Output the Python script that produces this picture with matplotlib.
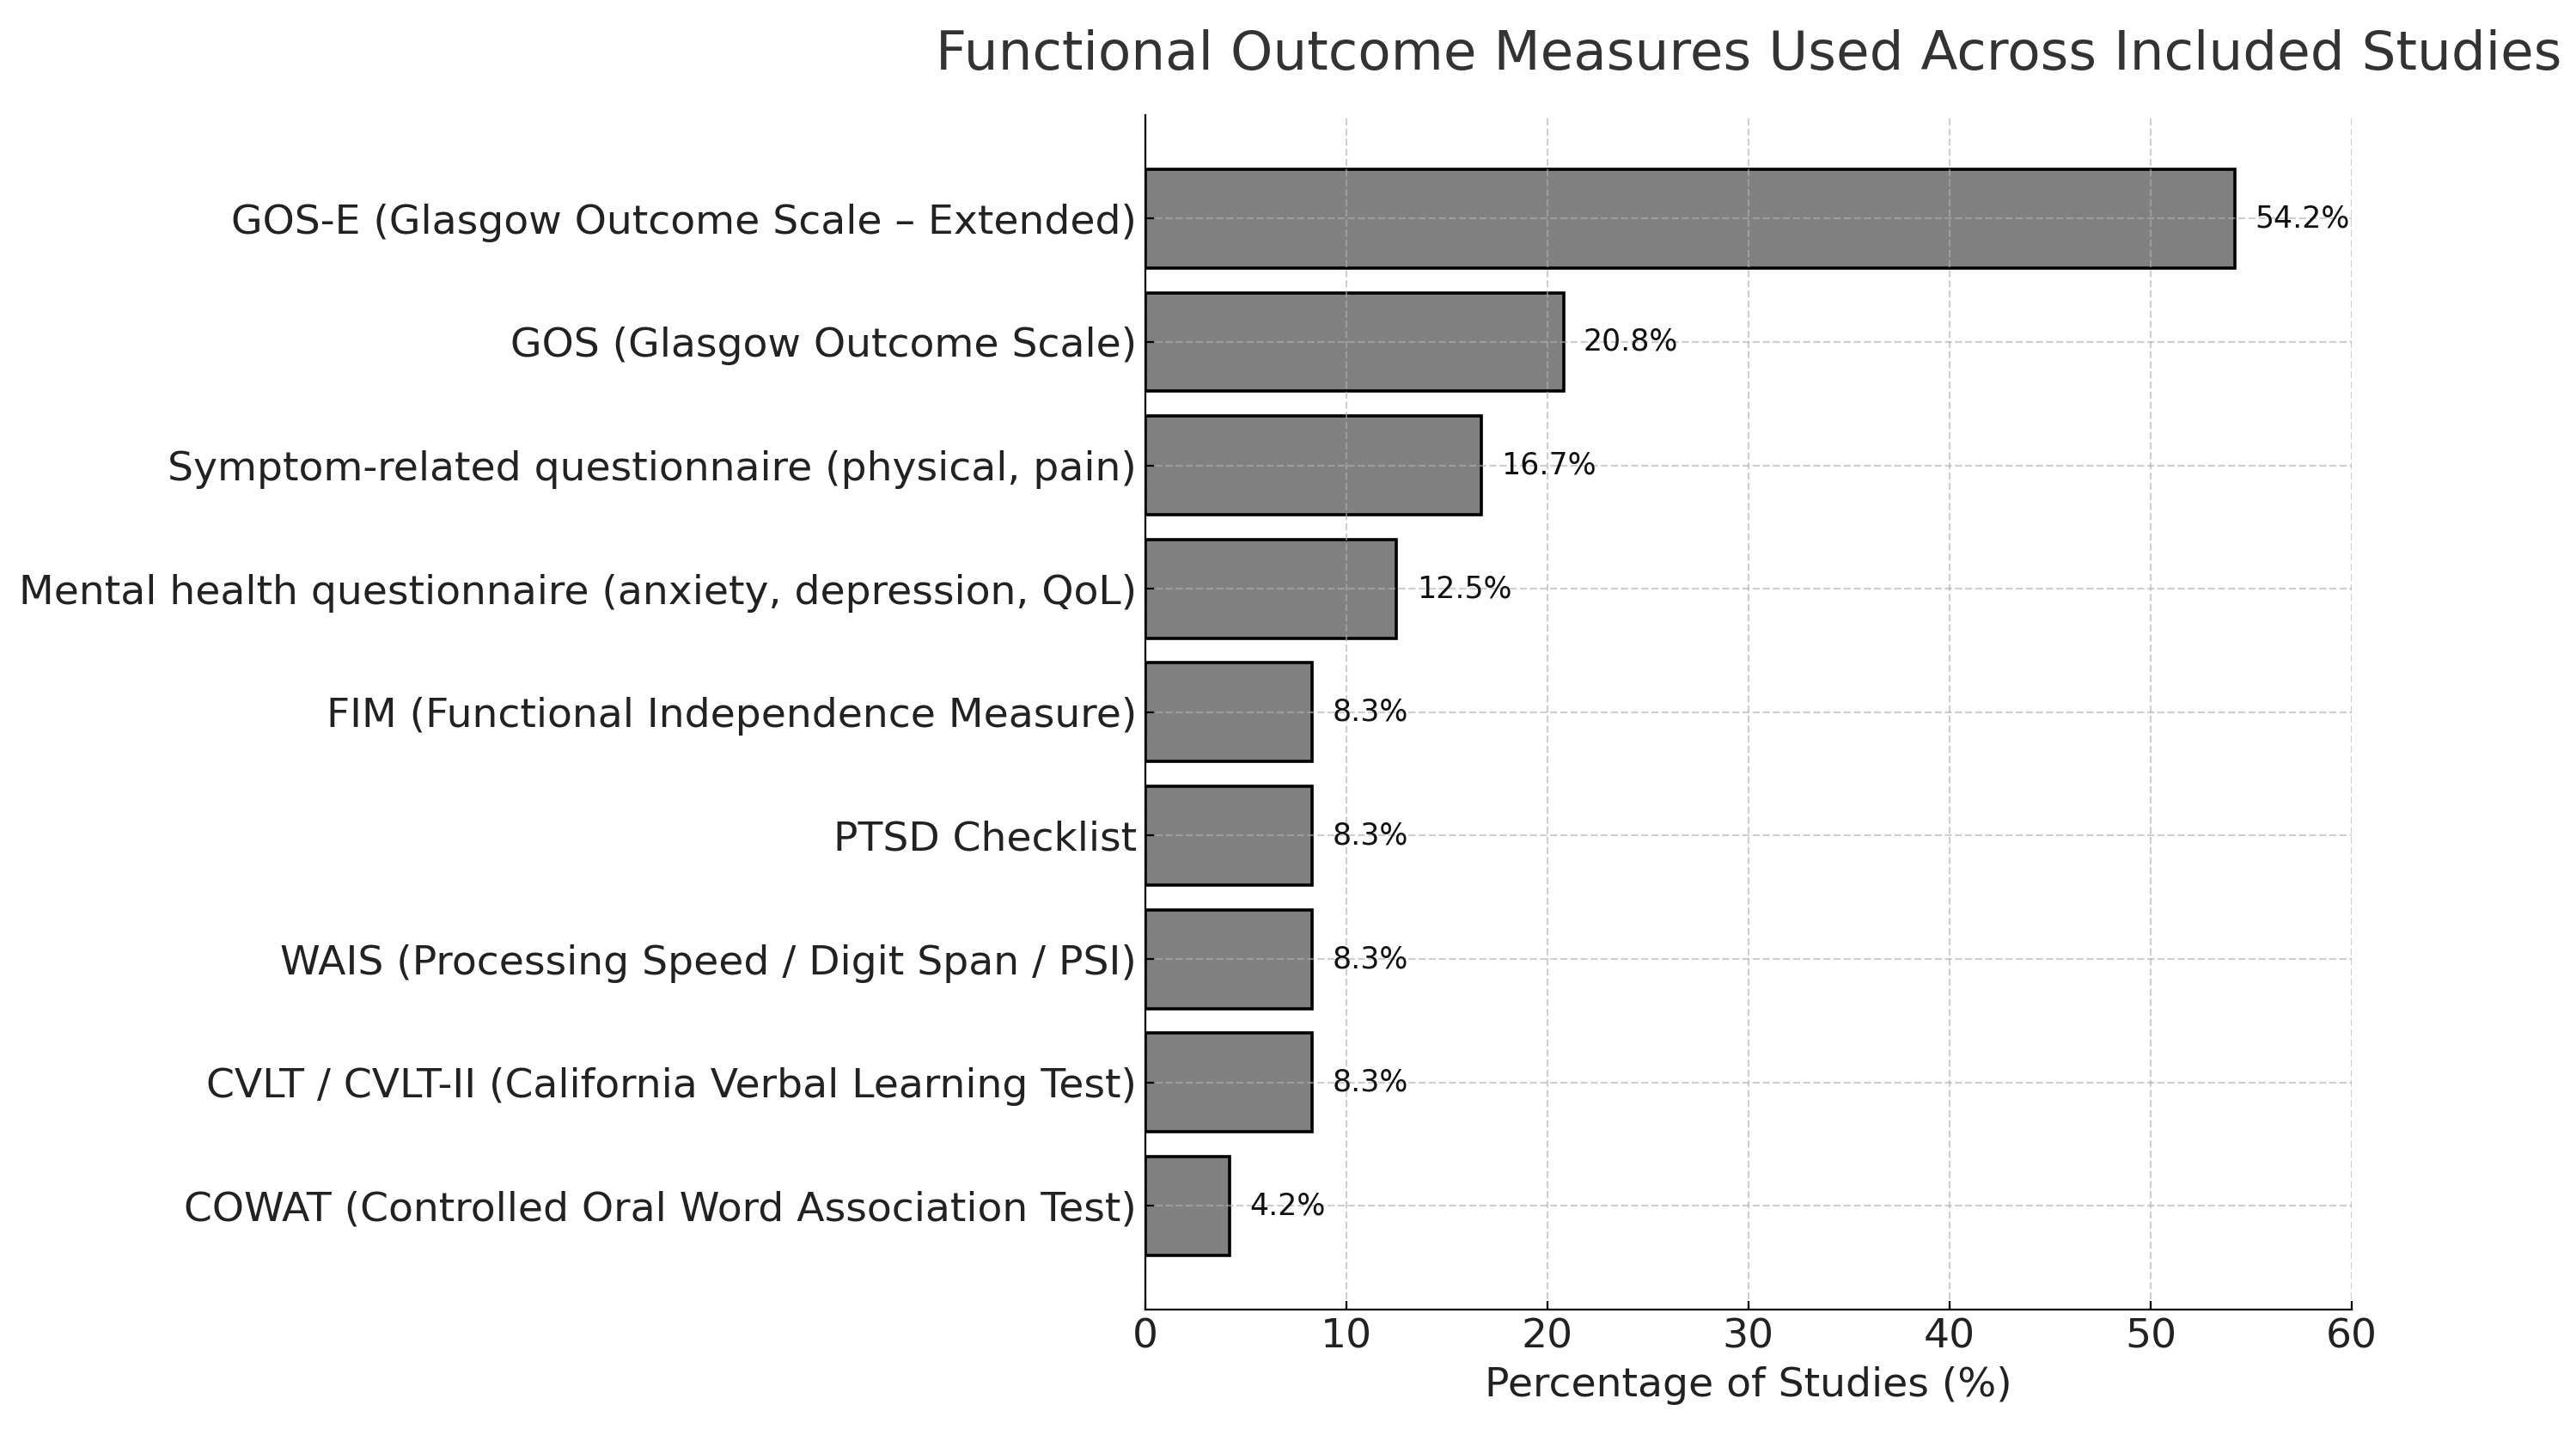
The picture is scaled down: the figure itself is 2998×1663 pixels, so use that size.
import matplotlib
matplotlib.use("Agg")
import matplotlib.pyplot as plt

# measures, listed top to bottom as in the chart
measures = [
    "GOS-E (Glasgow Outcome Scale – Extended)",
    "GOS (Glasgow Outcome Scale)",
    "Symptom-related questionnaire (physical, pain)",
    "Mental health questionnaire (anxiety, depression, QoL)",
    "FIM (Functional Independence Measure)",
    "PTSD Checklist",
    "WAIS (Processing Speed / Digit Span / PSI)",
    "CVLT / CVLT-II (California Verbal Learning Test)",
    "COWAT (Controlled Oral Word Association Test)",
]
percentages = [54.2, 20.8, 16.7, 12.5, 8.3, 8.3, 8.3, 8.3, 4.2]
x_ticks = [0, 10, 20, 30, 40, 50, 60]

fig = plt.figure(figsize=(14.99, 8.315), dpi=200)
ax = fig.add_axes([0.4445, 0.0836, 0.4685, 0.836])

# reverse so the first measure sits on top
ax.barh(measures[::-1], percentages[::-1], color="#808080",
        edgecolor="black", linewidth=1.3, height=0.8)

for i, v in enumerate(percentages[::-1]):
    ax.text(v + 1, i, f"{v}%", ha="left", va="center", fontsize=12.5,
            color="#111111")

ax.set_xlim(0, 60)
ax.set_xticks(x_ticks)
ax.set_xlabel("Percentage of Studies (%)", fontsize=17, color="#222222")
ax.set_title("Functional Outcome Measures Used Across Included Studies",
             fontsize=22.6, color="#333333", pad=19)

ax.tick_params(axis="both", direction="in", labelsize=17,
               labelcolor="#222222")
ax.grid(True, linestyle="--", color="#b0b0b0", alpha=0.6)
ax.spines["top"].set_visible(False)
ax.spines["right"].set_visible(False)

fig.savefig("out.png", dpi=200)
